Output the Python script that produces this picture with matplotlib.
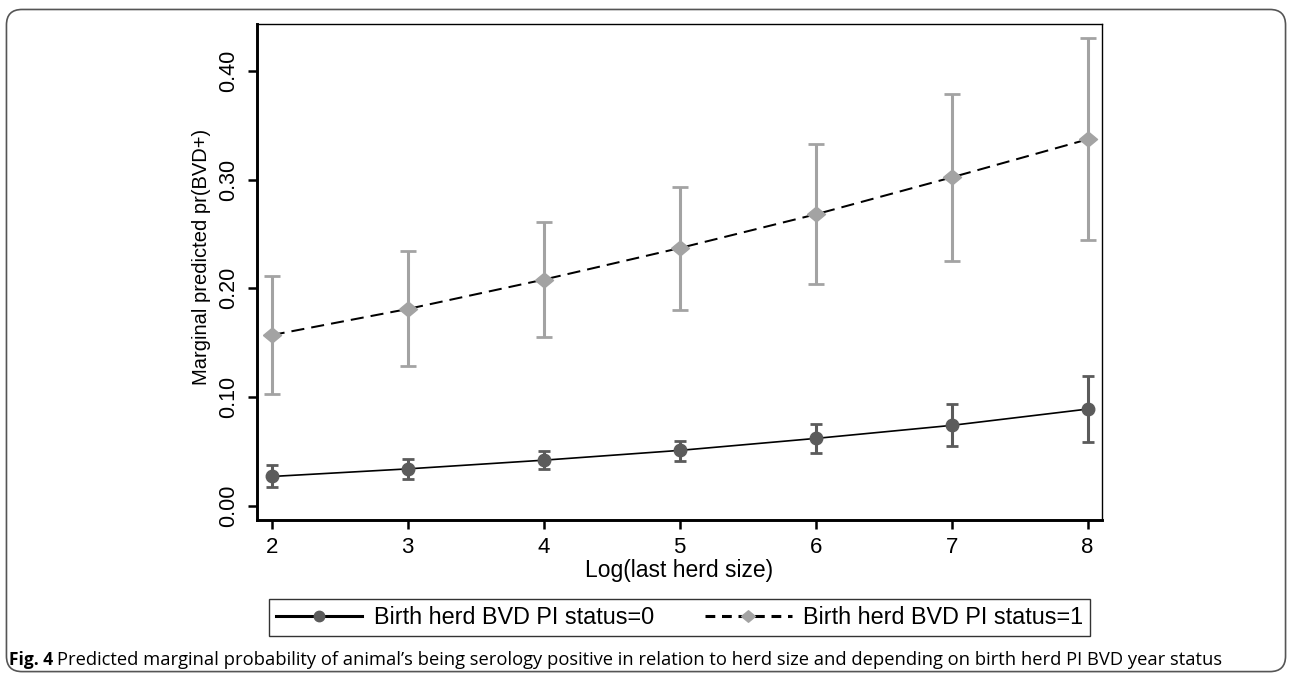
import matplotlib.pyplot as plt
from matplotlib.patches import FancyBboxPatch
from matplotlib.lines import Line2D

# herd size (log) and predicted margins
log_size = [2, 3, 4, 5, 6, 7, 8]

pi0_mean = [0.027, 0.034, 0.042, 0.051, 0.062, 0.074, 0.089]
pi0_low = [0.017, 0.025, 0.034, 0.041, 0.049, 0.055, 0.059]
pi0_high = [0.038, 0.043, 0.050, 0.060, 0.075, 0.094, 0.119]

pi1_mean = [0.157, 0.181, 0.208, 0.237, 0.268, 0.302, 0.337]
pi1_low = [0.103, 0.129, 0.155, 0.180, 0.204, 0.225, 0.244]
pi1_high = [0.211, 0.234, 0.261, 0.293, 0.333, 0.379, 0.430]

y_ticks = [0.0, 0.1, 0.2, 0.3, 0.4]

plt.rcParams['font.family'] = ['Liberation Sans', 'DejaVu Sans']

fig = plt.figure(figsize=(12.92, 6.77), dpi=100)

# rounded frame round the whole figure
frame = FancyBboxPatch((0.005, 0.008), 0.99, 0.978, boxstyle='round,pad=0,rounding_size=0.012',
                       transform=fig.transFigure, fill=False, edgecolor='#555555', linewidth=1.2,
                       mutation_aspect=1292 / 677)
fig.patches.append(frame)

ax = fig.add_axes([0.1989, 0.2319, 0.654, 0.7326])

dark = '#5b5b5b'
light = '#a3a3a3'
# diamond a bit wider than tall, like the Stata export
diamond = [(-1, 0), (0, 0.83), (1, 0), (0, -0.83), (-1, 0)]


def errs(mean, low, high):
    return [[m - l for m, l in zip(mean, low)], [h - m for m, h in zip(mean, high)]]


ax.errorbar(log_size, pi0_mean, yerr=errs(pi0_mean, pi0_low, pi0_high), fmt='none',
            ecolor=dark, elinewidth=2.2, capsize=4.5, capthick=2, zorder=2)
ax.plot(log_size, pi0_mean, color='black', linewidth=1.2, zorder=3)
ax.plot(log_size, pi0_mean, linestyle='none', marker='o', markersize=9,
        color=dark, zorder=4)

ax.errorbar(log_size, pi1_mean, yerr=errs(pi1_mean, pi1_low, pi1_high), fmt='none',
            ecolor=light, elinewidth=2.2, capsize=6, capthick=2, zorder=2)
ax.plot(log_size, pi1_mean, color='black', linewidth=1.45, linestyle=(0, (6.5, 3.5)), zorder=3)
ax.plot(log_size, pi1_mean, linestyle='none', marker=diamond, markersize=13,
        color=light, zorder=4)

ax.set_xlim(1.892, 8.105)
ax.set_ylim(-0.013, 0.443)
ax.set_xticks(log_size)
ax.set_yticks(y_ticks)
ax.set_yticklabels(['%.2f' % t for t in y_ticks], rotation=90, va='center')
ax.tick_params(axis='both', direction='out', length=6.5, width=1.8, color='black')
ax.tick_params(axis='x', labelsize=16, pad=6)
ax.tick_params(axis='y', labelsize=15.5, pad=6)

ax.spines['left'].set_linewidth(2.1)
ax.spines['bottom'].set_linewidth(2.1)
ax.spines['top'].set_linewidth(1.0)
ax.spines['right'].set_linewidth(1.0)

ax.set_xlabel('Log(last herd size)', fontsize=16.5)
ax.xaxis.set_label_coords(0.5, -0.079)
ax.set_ylabel('Marginal predicted pr(BVD+)', fontsize=14.5)
ax.yaxis.set_label_coords(-0.054, 0.53)

# legend below the plot
h0 = Line2D([], [], color='black', linewidth=2.2, marker='o', markersize=7.5,
            markerfacecolor=dark, markeredgecolor=dark)
h1 = Line2D([], [], color='black', linewidth=2.2, linestyle=(0, (3.2, 2.2)), marker=diamond,
            markersize=10, markerfacecolor=light, markeredgecolor=light)
leg = fig.legend([h0, h1], ['Birth herd BVD PI status=0', 'Birth herd BVD PI status=1'],
                 loc='center', bbox_to_anchor=(0.526, 0.0874), ncol=2, fontsize=16.8,
                 frameon=True, fancybox=False, handlelength=3.7, columnspacing=2.2,
                 handletextpad=0.5, borderpad=0.3)
leg.get_frame().set_edgecolor('black')
leg.get_frame().set_linewidth(1.0)

fig.text(0.007, 0.025, 'Fig. 4', fontsize=12.5, fontweight='bold', family='Open Sans', va='center')
fig.text(0.0445, 0.025, 'Predicted marginal probability of animal\u2019s being serology positive in relation '
         'to herd size and depending on birth herd PI BVD year status',
         fontsize=13.2, family='Open Sans', va='center')

fig.savefig('out.png', dpi=100)
